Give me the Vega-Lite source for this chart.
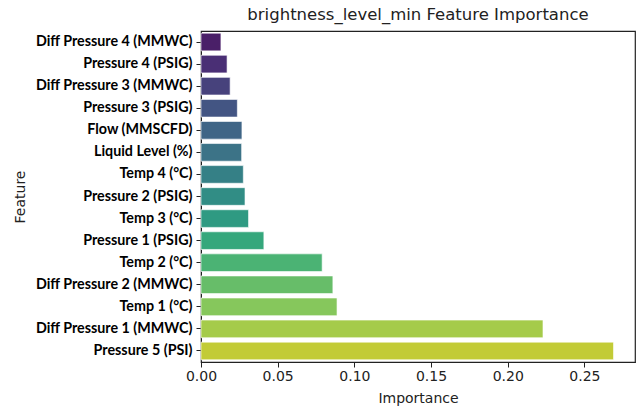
{
  "$schema": "https://vega.github.io/schema/vega-lite/v6.json",
  "autosize": "none",
  "padding": {"left": 201, "top": 31, "right": 2, "bottom": 48},
  "width": 434,
  "height": 331,
  "background": "white",
  "title": {"text": "brightness_level_min Feature Importance", "font": "DejaVu Sans", "fontSize": 16.5, "fontWeight": "normal", "color": "#222222", "offset": 8, "anchor": "middle"},
  "config": {"view": {"stroke": "#222222", "strokeWidth": 1.2}},
  "data": {"values": [
    {"Feature": "Diff Pressure 4 (MMWC)", "Importance": 0.013},
    {"Feature": "Pressure 4 (PSIG)", "Importance": 0.017},
    {"Feature": "Diff Pressure 3 (MMWC)", "Importance": 0.019},
    {"Feature": "Pressure 3 (PSIG)", "Importance": 0.0237},
    {"Feature": "Flow (MMSCFD)", "Importance": 0.0267},
    {"Feature": "Liquid Level (%)", "Importance": 0.0265},
    {"Feature": "Temp 4 (°C)", "Importance": 0.0276},
    {"Feature": "Pressure 2 (PSIG)", "Importance": 0.0287},
    {"Feature": "Temp 3 (°C)", "Importance": 0.031},
    {"Feature": "Pressure 1 (PSIG)", "Importance": 0.041},
    {"Feature": "Temp 2 (°C)", "Importance": 0.079},
    {"Feature": "Diff Pressure 2 (MMWC)", "Importance": 0.086},
    {"Feature": "Temp 1 (°C)", "Importance": 0.0887},
    {"Feature": "Diff Pressure 1 (MMWC)", "Importance": 0.223},
    {"Feature": "Pressure 5 (PSI)", "Importance": 0.269}
  ]},
  "mark": {"type": "bar", "stroke": "white", "strokeWidth": 0.6},
  "encoding": {
    "y": {"field": "Feature", "type": "nominal", "sort": null,
      "scale": {"paddingInner": 0.2, "paddingOuter": 0.1},
      "axis": {"title": "Feature", "titleFont": "DejaVu Sans", "titleFontSize": 14, "titleFontWeight": "normal", "titleColor": "#222222", "titlePadding": 8,
        "labelFont": "Lato", "labelFontWeight": "bold", "labelFontSize": 14.3, "labelColor": "#000000", "labelPadding": 4,
        "tickColor": "#222222", "tickSize": 5, "domainColor": "#222222", "grid": false}},
    "x": {"field": "Importance", "type": "quantitative",
      "scale": {"domain": [0, 0.283], "nice": false},
      "axis": {"title": "Importance", "titleFont": "DejaVu Sans", "titleFontSize": 14, "titleFontWeight": "normal", "titleColor": "#222222", "titlePadding": 8,
        "labelFont": "DejaVu Sans", "labelFontSize": 14, "labelColor": "#222222", "format": ".2f", "values": [0, 0.05, 0.1, 0.15, 0.2, 0.25],
        "tickColor": "#222222", "tickSize": 5, "domainColor": "#222222", "grid": false, "labelFlush": false}},
    "color": {"field": "Feature", "type": "nominal", "sort": null, "legend": null,
      "scale": {"range": ["#4a1f68", "#4a2f75", "#47427c", "#435583", "#3f6586", "#3c7387", "#358086", "#318d85", "#2f9a82", "#35a77c", "#4bb374", "#67bd69", "#86c75c", "#a5cb4a", "#c2cb36"]}}
  }
}
